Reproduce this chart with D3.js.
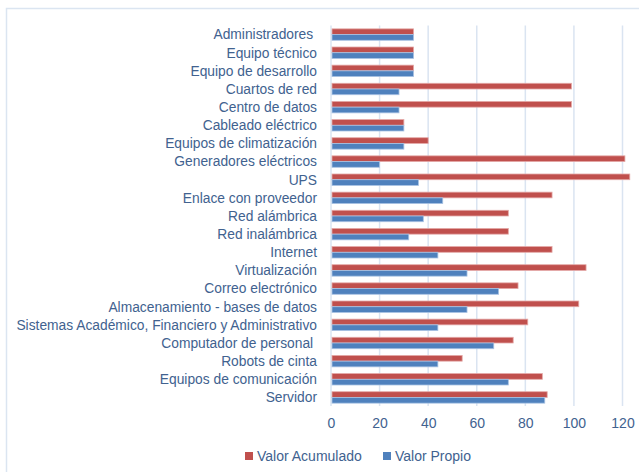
<!DOCTYPE html>
<html><head><meta charset="utf-8">
<script src="https://cdn.jsdelivr.net/npm/d3@7"></script>
<style>body{margin:0;background:#fff}svg{display:block}text{white-space:pre}</style>
</head><body>
<svg id="c" width="639" height="472"></svg>
<script>
const categories = ["Administradores ","Equipo técnico","Equipo de desarrollo","Cuartos de red","Centro de datos","Cableado eléctrico","Equipos de climatización","Generadores eléctricos","UPS","Enlace con proveedor","Red alámbrica","Red inalámbrica","Internet","Virtualización","Correo electrónico","Almacenamiento - bases de datos","Sistemas Académico, Financiero y Administrativo","Computador de personal ","Robots de cinta","Equipos de comunicación","Servidor"];
const valorAcumulado = [34,34,34,99,99,30,40,121,123,91,73,73,91,105,77,102,81,75,54,87,89];
const valorPropio    = [34,34,34,28,28,30,30,20,36,46,38,32,44,56,69,56,44,67,44,73,88];
const xTicks = [0,20,40,60,80,100,120];
const seriesNames = ["Valor Acumulado","Valor Propio"];
const seriesColors = ["#c0504d","#4f81bd"];

const svg = d3.select("#c");
const textColor = "#41628f";
const font = "Liberation Sans, Arial, sans-serif";

// border
svg.append("rect").attr("x",6.5).attr("y",8.5).attr("width",700).attr("height",500)
  .attr("fill","none").attr("stroke","#dbe5f1").attr("stroke-width",1.5);

const x = d3.scaleLinear().domain([0,120]).range([331,622.5]);
const y = d3.scaleBand().domain(categories).range([25.5,406.5]).paddingInner(0.37).paddingOuter(0.185);
const sub = d3.scaleBand().domain(seriesNames).range([0,y.bandwidth()]);

// gridlines
svg.append("g").selectAll("line").data(xTicks).join("line")
  .attr("x1",d=>x(d)).attr("x2",d=>x(d)).attr("y1",25.5).attr("y2",406)
  .attr("stroke","#dae4f1").attr("stroke-width",1.5);

// bars
const data = [valorAcumulado, valorPropio];
data.forEach((vals,si)=>{
  svg.append("g").selectAll("rect").data(categories).join("rect")
    .attr("x",x(0)+1)
    .attr("y",(c)=>y(c)+sub(seriesNames[si]))
    .attr("width",(c,i)=>x(vals[i])-x(0)-1)
    .attr("height",sub.bandwidth())
    .attr("fill",seriesColors[si])
    .attr("stroke",si===0?"#e4a9a7":"#a9c2e3").attr("stroke-width",0.8);
});

// category labels
svg.append("g").selectAll("text").data(categories).join("text")
  .attr("x",317).attr("y",c=>y(c)+y.bandwidth()/2)
  .attr("dy","0.35em").attr("text-anchor","end")
  .attr("font-family",font).attr("font-size",13.8).attr("fill",textColor)
  .text(c=>c);

// x axis labels
const ax = svg.append("g").attr("transform","translate(0,406)")
  .call(d3.axisBottom(x).tickValues(xTicks).tickSize(0).tickPadding(12));
ax.select(".domain").remove();
ax.selectAll("text").attr("font-family",font).attr("font-size",14).attr("fill",textColor);

// legend
const leg = svg.append("g");
const legX = [245,383];
seriesNames.forEach((n,i)=>{
  leg.append("rect").attr("x",legX[i]).attr("y",452).attr("width",8).attr("height",8).attr("fill",seriesColors[i]);
  leg.append("text").attr("x",legX[i]+12).attr("y",456).attr("dy","0.35em")
    .attr("font-family",font).attr("font-size",14).attr("fill",textColor).text(n);
});
</script>
</body></html>
